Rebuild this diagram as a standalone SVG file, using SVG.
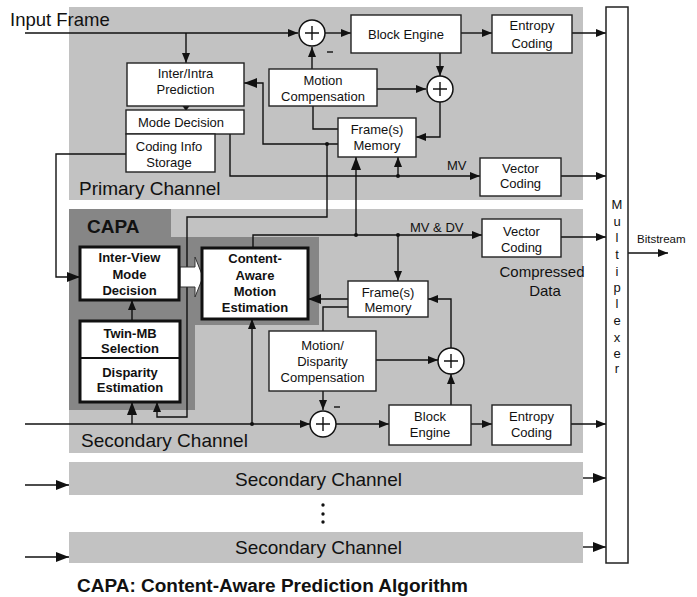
<svg xmlns="http://www.w3.org/2000/svg" width="697" height="597" viewBox="0 0 697 597">
<style>
text{font-family:"Liberation Sans",Arial,sans-serif;fill:#111}
.t13{font-size:13px;text-anchor:middle}
.b13{font-size:13px;font-weight:bold;text-anchor:middle}
.big{font-size:19px}
.box{fill:#fff;stroke:#222;stroke-width:1.4}
.thick{fill:#fff;stroke:#111;stroke-width:3}
.ln{fill:none;stroke:#111;stroke-width:1.4}
.ad{fill:#fff;stroke:#111;stroke-width:1.5}
.dot{fill:#111}
</style>
<defs>
<marker id="a" markerUnits="userSpaceOnUse" markerWidth="10" markerHeight="8" refX="10" refY="4" orient="auto"><path d="M0,0 L10,4 L0,8 z" fill="#111"/></marker>
<marker id="A" markerUnits="userSpaceOnUse" markerWidth="13" markerHeight="10" refX="13" refY="5" orient="auto"><path d="M0,0 L13,5 L0,10 z" fill="#111"/></marker>
</defs>

<g id="regions">
<rect x="69" y="7" width="514" height="193" fill="#c2c2c2"/>
<rect x="69" y="209" width="514" height="244" fill="#c2c2c2"/>
<polygon points="69,209 171,209 171,237 319,237 319,325 195,325 195,410 69,410" fill="#868686"/>
<rect x="69" y="462" width="514" height="33" fill="#c2c2c2"/>
<rect x="69" y="532" width="514" height="31" fill="#c2c2c2"/>
<text class="big" x="10" y="26" style="font-size:18.5px">Input Frame</text>
<text class="big" x="79" y="195">Primary Channel</text>
<text class="big" x="81" y="447">Secondary Channel</text>
<text x="87" y="233" style="font-size:19px;font-weight:bold">CAPA</text>
<text class="big" x="318.5" y="486" text-anchor="middle">Secondary Channel</text>
<text class="big" x="318.5" y="554" text-anchor="middle">Secondary Channel</text>
<text x="542" y="276.5" style="font-size:15px" text-anchor="middle">Compressed</text>
<text x="545" y="295.5" style="font-size:15px" text-anchor="middle">Data</text>
<circle class="dot" cx="323" cy="505" r="1.7"/>
<circle class="dot" cx="323" cy="514" r="1.7"/>
<circle class="dot" cx="323" cy="522" r="1.7"/>
<text x="77" y="592" style="font-size:18px;font-weight:bold" textLength="391" lengthAdjust="spacingAndGlyphs">CAPA: Content-Aware Prediction Algorithm</text>
</g>

<g id="connectors">
<!-- primary -->
<line class="ln" x1="25" y1="33" x2="298" y2="33" marker-end="url(#a)"/>
<line class="ln" x1="186" y1="33" x2="186" y2="63" marker-end="url(#a)"/>
<polygon points="182.5,106 189.5,106 186,111" fill="#111"/>
<line class="ln" x1="325" y1="33" x2="351" y2="33" marker-end="url(#a)"/>
<line class="ln" x1="461" y1="33" x2="492" y2="33" marker-end="url(#a)"/>
<line class="ln" x1="572" y1="33" x2="606" y2="33" marker-end="url(#a)"/>
<line class="ln" x1="312" y1="69" x2="312" y2="47" marker-end="url(#a)"/>
<line class="ln" x1="377" y1="89" x2="426" y2="89" marker-end="url(#a)"/>
<line class="ln" x1="440" y1="53" x2="440" y2="76" marker-end="url(#a)"/>
<polyline class="ln" points="440,102 440,137 416,137" marker-end="url(#a)"/>
<polyline class="ln" points="313,106 313,129 338,129"/>
<polyline class="ln" points="338,144 263,144 263,83 244,83" marker-end="url(#A)"/>
<circle class="dot" cx="327" cy="144" r="2"/>
<polyline class="ln" points="327,144 327,217 187,217 187,417 157,417 157,402" marker-end="url(#a)"/>
<polyline class="ln" points="230,134 230,176 480,176" marker-end="url(#a)"/>
<circle class="dot" cx="398" cy="176" r="2"/>
<line class="ln" x1="398" y1="176" x2="398" y2="157" marker-end="url(#a)"/>
<line class="ln" x1="356" y1="235" x2="356" y2="157" marker-end="url(#A)"/>
<line class="ln" x1="561" y1="176" x2="606" y2="176" marker-end="url(#a)"/>
<text x="447" y="170" style="font-size:13px">MV</text>
<polyline class="ln" points="126,154 56,154 56,277 80,277" marker-end="url(#A)"/>
<!-- secondary -->
<line class="ln" x1="25" y1="424" x2="310" y2="424" marker-end="url(#a)"/>
<circle class="dot" cx="252" cy="424" r="2"/>
<line class="ln" x1="252" y1="424" x2="252" y2="319" marker-end="url(#a)"/>
<line class="ln" x1="132" y1="424" x2="132" y2="402" marker-end="url(#A)"/>
<line class="ln" x1="132" y1="321" x2="132" y2="300" marker-end="url(#a)"/>
<polygon points="180,267 195,267 195,257 203,277 195,297 195,287 180,287" fill="#fff" stroke="#333" stroke-width="1"/>
<polyline class="ln" points="253,248 253,235 482,235" marker-end="url(#a)"/>
<circle class="dot" cx="356" cy="235" r="2"/>
<circle class="dot" cx="398" cy="235" r="2"/>
<line class="ln" x1="398" y1="235" x2="398" y2="281" marker-end="url(#a)"/>
<text x="410" y="232" style="font-size:13px">MV &amp; DV</text>
<line class="ln" x1="348" y1="299" x2="308" y2="299" marker-end="url(#A)"/>
<polyline class="ln" points="348,307 323,307 323,331"/>
<line class="ln" x1="376" y1="360" x2="438" y2="360" marker-end="url(#a)"/>
<polyline class="ln" points="451,348 451,299 428,299" marker-end="url(#a)"/>
<line class="ln" x1="451" y1="405" x2="451" y2="374" marker-end="url(#a)"/>
<line class="ln" x1="323" y1="391" x2="323" y2="410" marker-end="url(#a)"/>
<line class="ln" x1="336" y1="424" x2="389" y2="424" marker-end="url(#a)"/>
<line class="ln" x1="471" y1="424" x2="492" y2="424" marker-end="url(#a)"/>
<line class="ln" x1="571" y1="424" x2="606" y2="424" marker-end="url(#a)"/>
<line class="ln" x1="561" y1="237" x2="606" y2="237" marker-end="url(#a)"/>
<!-- other channels -->
<line class="ln" x1="25" y1="485" x2="69" y2="485" marker-end="url(#A)"/>
<line class="ln" x1="25" y1="557" x2="69" y2="557" marker-end="url(#A)"/>
<line class="ln" x1="583" y1="478" x2="606" y2="478" marker-end="url(#A)"/>
<line class="ln" x1="583" y1="547" x2="606" y2="547" marker-end="url(#A)"/>
<line class="ln" x1="628" y1="253" x2="668" y2="253" marker-end="url(#a)"/>
<text x="637" y="243" style="font-size:11.5px">Bitstream</text>
</g>

<g id="adder1"><circle class="ad" cx="312" cy="33" r="13"/><path class="ln" d="M305,33 H319 M312,26 V40"/><line class="ln" x1="327" y1="52" x2="333" y2="52"/></g>
<g id="adder2"><circle class="ad" cx="440" cy="89" r="13"/><path class="ln" d="M433,89 H447 M440,82 V96"/></g>
<g id="adder3"><circle class="ad" cx="451" cy="361" r="13"/><path class="ln" d="M444,361 H458 M451,354 V368"/></g>
<g id="adder4"><circle class="ad" cx="323" cy="424" r="13"/><path class="ln" d="M316,424 H330 M323,417 V431"/><line class="ln" x1="334" y1="407" x2="340" y2="407"/></g>

<g id="inter-intra"><rect class="box" x="127" y="63" width="117" height="43"/><text class="t13" x="185.5" y="78">Inter/Intra</text><text class="t13" x="185.5" y="94">Prediction</text></g>
<g id="mode-decision"><rect class="box" x="126" y="110" width="118" height="24"/><text class="t13" x="181" y="127">Mode Decision</text></g>
<g id="coding-info"><rect class="box" x="126" y="134" width="89" height="38"/><text class="t13" x="169" y="150.5">Coding Info</text><text class="t13" x="169" y="166.5">Storage</text></g>
<g id="motion-comp"><rect class="box" x="269" y="69" width="108" height="37"/><text class="t13" x="323" y="84.5">Motion</text><text class="t13" x="323" y="100.5">Compensation</text></g>
<g id="frame-mem-1"><rect class="box" x="338" y="118" width="78" height="39"/><text class="t13" x="377" y="133.5">Frame(s)</text><text class="t13" x="377" y="149.5">Memory</text></g>
<g id="block-engine-1"><rect class="box" x="351" y="15" width="110" height="38"/><text class="t13" x="406" y="38.5">Block Engine</text></g>
<g id="entropy-1"><rect class="box" x="492" y="15" width="80" height="38"/><text class="t13" x="532" y="29.5">Entropy</text><text class="t13" x="532" y="47.5">Coding</text></g>
<g id="vector-1"><rect class="box" x="480" y="158" width="81" height="38"/><text class="t13" x="520.5" y="172.5">Vector</text><text class="t13" x="520.5" y="188">Coding</text></g>

<g id="inter-view"><rect class="thick" x="80" y="247" width="99" height="53"/><text class="b13" x="129.5" y="261.5">Inter-View</text><text class="b13" x="129.5" y="278.5">Mode</text><text class="b13" x="129.5" y="294.5">Decision</text></g>
<g id="twin-mb"><rect class="thick" x="80" y="321" width="100" height="81"/><line x1="80" y1="358" x2="180" y2="358" stroke="#111" stroke-width="2"/><text class="b13" x="130" y="337.5">Twin-MB</text><text class="b13" x="130" y="352.5">Selection</text><text class="b13" x="130" y="376.5">Disparity</text><text class="b13" x="130" y="391.5">Estimation</text></g>
<g id="content-aware"><rect class="thick" x="202" y="248" width="106" height="71"/><text class="b13" x="255" y="263">Content-</text><text class="b13" x="255" y="279.5">Aware</text><text class="b13" x="255" y="296">Motion</text><text class="b13" x="255" y="312">Estimation</text></g>
<g id="frame-mem-2"><rect class="box" x="348" y="281" width="80" height="36"/><text class="t13" x="388" y="296.5">Frame(s)</text><text class="t13" x="388" y="311.5">Memory</text></g>
<g id="md-comp"><rect class="box" x="269" y="331" width="107" height="60"/><text class="t13" x="322.5" y="349.5">Motion/</text><text class="t13" x="322.5" y="365.5">Disparity</text><text class="t13" x="322.5" y="381.5">Compensation</text></g>
<g id="block-engine-2"><rect class="box" x="389" y="405" width="82" height="40"/><text class="t13" x="430" y="420.5">Block</text><text class="t13" x="430" y="436.5">Engine</text></g>
<g id="entropy-2"><rect class="box" x="492" y="405" width="79" height="40"/><text class="t13" x="531.5" y="420.5">Entropy</text><text class="t13" x="531.5" y="436.5">Coding</text></g>
<g id="vector-2"><rect class="box" x="482" y="219" width="79" height="38"/><text class="t13" x="521.5" y="235.5">Vector</text><text class="t13" x="521.5" y="251.5">Coding</text></g>

<g id="multiplexer"><rect x="606" y="7" width="22" height="556" fill="#fff" stroke="#222" stroke-width="1.5"/>
<g class="t13" style="font-size:13px">
<text class="t13" x="617" y="209">M</text><text class="t13" x="617" y="226">u</text><text class="t13" x="617" y="242">l</text><text class="t13" x="617" y="259">t</text><text class="t13" x="617" y="276">i</text><text class="t13" x="617" y="292">p</text><text class="t13" x="617" y="308">l</text><text class="t13" x="617" y="325">e</text><text class="t13" x="617" y="342">x</text><text class="t13" x="617" y="358">e</text><text class="t13" x="617" y="373">r</text>
</g></g>
</svg>
